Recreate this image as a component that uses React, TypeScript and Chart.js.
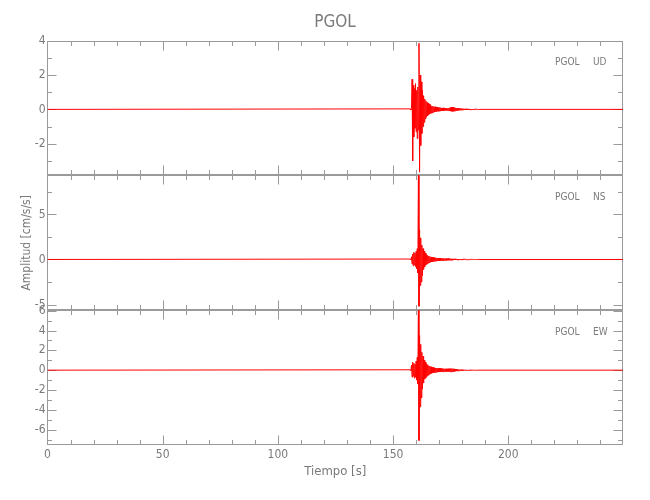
import React, { useEffect, useRef } from "react";
import { Chart, registerables } from "chart.js";

Chart.register(...registerables);

// ---------- data ----------
const STATION = "PGOL";
const COMPONENTS = ["UD", "NS", "EW"];
const RECORD_START = 0;
const RECORD_END = 249.8;
// burst samples: first sample time and sampling interval (s)
const SAMPLE_START = 157.5;
const SAMPLE_DT = 0.25;

const UD_VALUES = [
  0.03, -0.04, 0.05, 1.75, -3.0, 1.4, -1.6, 1.2, -1.1, 1.5,
  -1.3, 1.1, -1.7, 1.3, -1.2, 3.85, -3.65, 2.0, -2.1, 1.6,
  -1.4, 1.1, -1.0, 0.8, -0.75, 0.6, -0.55, 0.5, -0.45, 0.4,
  -0.38, 0.35, -0.3, 0.3, -0.25, 0.26, -0.22, 0.2, -0.2, 0.18,
  -0.17, 0.16, -0.15, 0.15, -0.13, 0.14, -0.12, 0.12, -0.11, 0.11,
  -0.1, 0.11, -0.09, 0.1, -0.09, 0.08, -0.08, 0.09, -0.07, 0.08,
  -0.07, 0.07, -0.06, 0.07, -0.06, 0.06, -0.07, 0.08, -0.09, 0.1,
  -0.1, 0.12, -0.11, 0.13, -0.12, 0.12, -0.1, 0.11, -0.09, 0.08,
  -0.08, 0.07, -0.06, 0.06, -0.05, 0.05, -0.05, 0.04, -0.04, 0.05,
  -0.04, 0.04, -0.03, 0.04, -0.03, 0.03, -0.03, 0.03, -0.02, 0.03,
  -0.03, 0.02, -0.02, 0.03, -0.02, 0.02, -0.02, 0.02, -0.02, 0.02,
  -0.02, 0.02, -0.01, 0.02, -0.01, 0.01, -0.01, 0.01, -0.01, 0.0,
];

const NS_VALUES = [
  0.05, -0.06, 0.3, -0.5, 0.6, -0.7, 0.8, -0.6, 0.7, -0.8,
  0.9, -1.0, 1.2, -1.5, 10.0, -5.2, 3.3, -2.9, 2.4, -2.5,
  1.6, -1.8, 1.2, -1.1, 0.9, -0.8, 0.7, -0.6, 0.55, -0.5,
  0.45, -0.4, 0.38, -0.35, 0.32, -0.3, 0.28, -0.26, 0.25, -0.24,
  0.22, -0.21, 0.2, -0.19, 0.19, -0.18, 0.17, -0.16, 0.16, -0.15,
  0.15, -0.14, 0.14, -0.13, 0.13, -0.12, 0.12, -0.12, 0.11, -0.11,
  0.11, -0.1, 0.1, -0.1, 0.09, -0.09, 0.1, -0.09, 0.09, -0.08,
  0.08, -0.08, 0.08, -0.07, 0.07, -0.07, 0.07, -0.06, 0.06, -0.06,
  0.06, -0.05, 0.05, -0.05, 0.05, -0.04, 0.04, -0.04, 0.04, -0.03,
  0.03, -0.03, 0.03, -0.03, 0.03, -0.02, 0.02, -0.02, 0.02, -0.02,
  0.02, -0.02, 0.02, -0.02, 0.01, -0.01, 0.01, -0.01, 0.01, -0.01,
  0.01, -0.01, 0.01, -0.01, 0.01, -0.01, 0.01, -0.01, 0.01, 0.0,
];

const EW_VALUES = [
  0.04, -0.05, 0.5, -0.7, 0.8, -0.6, 0.7, -0.8, 0.6, -0.7,
  0.9, -1.0, 1.3, -1.4, 7.3, -7.1, 3.5, -3.7, 2.6, -2.8,
  1.8, -1.9, 1.4, -1.3, 1.0, -0.9, 0.8, -0.75, 0.65, -0.6,
  0.55, -0.5, 0.45, -0.42, 0.4, -0.36, 0.34, -0.32, 0.3, -0.28,
  0.26, -0.25, 0.24, -0.23, 0.22, -0.21, 0.21, -0.2, 0.2, -0.19,
  0.19, -0.18, 0.18, -0.17, 0.17, -0.16, 0.16, -0.15, 0.15, -0.15,
  0.14, -0.14, 0.14, -0.13, 0.13, -0.13, 0.14, -0.15, 0.15, -0.16,
  0.16, -0.17, 0.16, -0.15, 0.15, -0.14, 0.13, -0.12, 0.11, -0.1,
  0.09, -0.08, 0.08, -0.07, 0.06, -0.06, 0.05, -0.05, 0.05, -0.04,
  0.04, -0.04, 0.03, -0.03, 0.03, -0.03, 0.03, -0.02, 0.02, -0.02,
  0.02, -0.02, 0.02, -0.02, 0.02, -0.01, 0.01, -0.01, 0.01, -0.01,
  0.01, -0.01, 0.01, -0.01, 0.01, -0.01, 0.01, -0.01, 0.01, 0.0,
];

// axis ranges and labelled ticks per panel (UD, NS, EW)
const Y_MIN = [-3.84, -5.63, -7.55];
const Y_MAX = [4.0, 9.33, 6.05];
const Y_TICKS = [
  [-2, 0, 2, 4],
  [-5, 0, 5],
  [-6, -4, -2, 0, 2, 4, 6],
];
const Y_MINOR = [1, 2.5, 1];
const X_TICKS = [0, 50, 100, 150, 200];
const X_MINOR = 10;

// ---------- style ----------
const FONT = "'DejaVu Sans Condensed', 'Liberation Sans Narrow', 'DejaVu Sans', sans-serif";
const TEXT_COLOR = "#7a7a7a";
const FRAME_COLOR = "#9a9a9a";
const TRACE_COLOR = "#ff0000";
const MAJOR_LEN = 9;
const MINOR_LEN = 4.5;

const AXIS_IDS = ["yUD", "yNS", "yEW"];

function toPoints(values: number[]) {
  const pts: { x: number; y: number }[] = [{ x: RECORD_START, y: 0 }];
  values.forEach((v, i) => pts.push({ x: SAMPLE_START + i * SAMPLE_DT, y: v }));
  pts.push({ x: RECORD_END, y: 0 });
  return pts;
}

const framePlugin = {
  id: "seisFrame",
  beforeDatasetsDraw(chart: any) {
    const { ctx, chartArea } = chart;
    const xs = chart.scales.x;
    const left = Math.round(chartArea.left) + 0.5;
    const right = Math.round(chartArea.right) - 0.5;
    ctx.save();
    ctx.strokeStyle = FRAME_COLOR;
    ctx.lineWidth = 1;
    const seg = (x1: number, y1: number, x2: number, y2: number) => {
      ctx.beginPath();
      ctx.moveTo(x1, y1);
      ctx.lineTo(x2, y2);
      ctx.stroke();
    };
    AXIS_IDS.forEach((id, k) => {
      const ys = chart.scales[id];
      const top = Math.round(ys.top) + 0.5;
      const bottom = Math.round(ys.bottom) - 0.5;
      ctx.strokeRect(left, top, right - left, bottom - top);
      for (let v = 0; v <= xs.max + 1e-9; v += X_MINOR) {
        const px = Math.round(xs.getPixelForValue(v)) + 0.5;
        const len = X_TICKS.includes(v) || v % 50 === 0 ? MAJOR_LEN : MINOR_LEN;
        seg(px, top, px, top + len);
        seg(px, bottom, px, bottom - len);
      }
      const step = Y_MINOR[k];
      const start = Math.ceil(ys.min / step) * step;
      for (let v = start; v <= ys.max + 1e-9; v += step) {
        const py = Math.round(ys.getPixelForValue(v)) + 0.5;
        const major = Y_TICKS[k].some((t) => Math.abs(t - v) < 1e-6);
        const len = major ? MAJOR_LEN : MINOR_LEN;
        seg(left, py, left + len, py);
        seg(right, py, right - len, py);
      }
      ctx.fillStyle = TEXT_COLOR;
      ctx.font = `10px ${FONT}`;
      ctx.textBaseline = "middle";
      ctx.textAlign = "left";
      ctx.fillText(STATION, chartArea.right - 68, ys.top + 22);
      ctx.fillText(COMPONENTS[k], chartArea.right - 30, ys.top + 22);
    });
    ctx.restore();
  },
};

function yAxis(k: number, title?: string) {
  return {
    type: "linear",
    position: "left",
    stack: "components",
    stackWeight: 1,
    min: Y_MIN[k],
    max: Y_MAX[k],
    grid: { display: false, drawTicks: false },
    border: { display: false },
    afterBuildTicks: (s: any) => {
      s.ticks = Y_TICKS[k].map((v) => ({ value: v }));
    },
    ticks: {
      padding: 2,
      autoSkip: false,
      color: TEXT_COLOR,
      font: { family: FONT, size: 12 },
      callback: (v: any) => String(v),
    },
    title: title
      ? { display: true, text: title, color: TEXT_COLOR, padding: 0, font: { family: FONT, size: 12 } }
      : { display: false },
    afterFit: (s: any) => {
      s.width = 27.5;
    },
  };
}

export default function App() {
  const ref = useRef<HTMLCanvasElement>(null);
  useEffect(() => {
    document.body.style.margin = "0";
    const canvas = ref.current;
    if (!canvas) return;
    const series = [UD_VALUES, NS_VALUES, EW_VALUES];
    const chart = new Chart(canvas, {
      type: "line",
      data: {
        datasets: series.map((vals, k) => ({
          label: `${STATION} ${COMPONENTS[k]}`,
          data: toPoints(vals),
          yAxisID: AXIS_IDS[k],
          borderColor: TRACE_COLOR,
          borderWidth: 1,
          pointRadius: 0,
          tension: 0,
          fill: false,
        })),
      },
      options: {
        animation: false,
        responsive: false,
        devicePixelRatio: 1,
        layout: { padding: { left: 20, right: 0, top: 0, bottom: 0 } },
        plugins: {
          legend: { display: false },
          tooltip: { enabled: false },
          title: {
            display: true,
            text: STATION,
            color: TEXT_COLOR,
            font: { family: FONT, size: 17, weight: "normal" },
            padding: { top: 12, bottom: 8.2 },
          },
        },
        scales: {
          x: {
            type: "linear",
            min: RECORD_START,
            max: RECORD_END,
            grid: { display: false, drawTicks: false },
            border: { display: false },
            afterBuildTicks: (s: any) => {
              s.ticks = X_TICKS.map((v) => ({ value: v }));
            },
            ticks: {
              padding: 3,
              maxRotation: 0,
              autoSkip: false,
              color: TEXT_COLOR,
              font: { family: FONT, size: 12 },
              callback: (v: any) => String(v),
            },
            title: {
              display: true,
              text: "Tiempo [s]",
              color: TEXT_COLOR,
              padding: { top: 0, bottom: 21 },
              font: { family: FONT, size: 13 },
            },
            afterFit: (s: any) => {
              s.height = 55;
            },
          },
          // stacked left axes: first listed is placed lowest
          yEW: yAxis(2),
          yNS: yAxis(1, "Amplitud [cm/s/s]"),
          yUD: yAxis(0),
          yRight: {
            type: "linear",
            position: "right",
            min: 0,
            max: 1,
            grid: { display: false, drawTicks: false },
            border: { display: false },
            ticks: { display: false },
            afterFit: (s: any) => {
              s.width = 27;
            },
          },
        } as any,
      },
      plugins: [framePlugin],
    } as any);
    return () => chart.destroy();
  }, []);
  return <canvas ref={ref} width={650} height={500} style={{ display: "block" }} />;
}
